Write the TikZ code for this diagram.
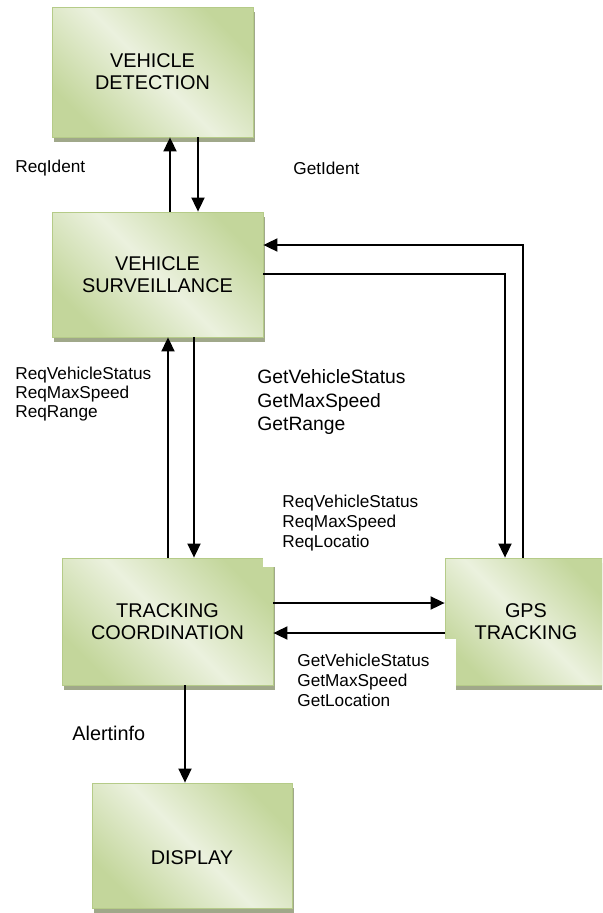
\documentclass[tikz,border=0pt]{standalone}
\usepackage{fontspec}
\setmainfont{Liberation Sans}
\usetikzlibrary{arrows.meta,shadows}
\definecolor{boxdark}{HTML}{C3D69B}
\definecolor{boxlight}{HTML}{EBF1DE}
\definecolor{boxedge}{HTML}{B5CB88}
\definecolor{boxshade}{HTML}{A0A88A}

\begin{document}
\begin{tikzpicture}[
  x=0.02cm, y=-0.02cm,
  blk/.style={draw=boxedge, line width=0.5pt, top color=boxdark, bottom color=boxdark, middle color=boxlight, shading angle=-45, font=\fontsize{11.3}{12.6}\selectfont, align=center, inner sep=0pt, drop shadow={shadow xshift=1.4pt, shadow yshift=-2.6pt, fill=boxshade, opacity=1}},
  msg/.style={font=\fontsize{9.8}{10.8}\selectfont, align=left, anchor=west, inner sep=0pt},
  flow/.style={->, line width=0.8pt},
  >={Triangle[length=8pt,width=7.5pt]}]
\path[use as bounding box] (0,0) rectangle (602,913);
\clip (0,0) rectangle (602,913);
% modules
\node[blk, minimum width=4.02cm, minimum height=2.6cm]  (det)   at (152.5,72)    {VEHICLE\\DETECTION};
\node[blk, minimum width=4.22cm, minimum height=2.5cm]  (surv)  at (157.5,274.5) {VEHICLE\\SURVEILLANCE};
\node[blk, minimum width=4.22cm, minimum height=2.54cm] (track) at (167.5,621.5) {TRACKING\\COORDINATION};
\node[blk, minimum width=3.24cm, minimum height=2.54cm] (gps)   at (526,621.5)   {GPS\\TRACKING};
\node[blk, minimum width=4cm, minimum height=2.5cm, label={[font=\fontsize{11.3}{12.6}\selectfont, yshift=-7pt]center:DISPLAY}] (disp) at (192,845.5) {};
% label backgrounds
\fill[white] (263,490) rectangle (441,567);
\fill[white] (278,639) rectangle (456,712);
% edges
\draw[flow] (surv.north -| 170,0) -- (det.south -| 170,0);
\draw[flow] (det.south -| 198,0) -- (surv.north -| 198,0);
\draw[flow] (gps.north -| 523,0) |- (surv.east |- 0,245);
\draw[flow] (surv.east |- 0,274) -| (gps.north -| 505,0);
\draw[flow] (track.north -| 168,0) -- (surv.south -| 168,0);
\draw[flow] (surv.south -| 194,0) -- (track.north -| 194,0);
\draw[flow] (track.east |- 0,603) -- (gps.west |- 0,603);
\draw[flow] (gps.west |- 0,633) -- (track.east |- 0,633);
\draw[flow] (track.south -| 185,0) -- (disp.north -| 185,0);
% messages
\node[msg] (reqid) at (15,168) {ReqIdent};
\node[msg] (getid) at (293,168) {GetIdent};
\node[msg] (reqsv) at (15,394) {ReqVehicleStatus\\ReqMaxSpeed\\ReqRange};
\node[msg, font=\fontsize{11}{13.3}\selectfont] (getsv) at (257,402) {GetVehicleStatus\\GetMaxSpeed\\GetRange};
\node[msg, font=\fontsize{9.8}{11.6}\selectfont] (reqgps) at (282,523) {ReqVehicleStatus\\ReqMaxSpeed\\ReqLocatio};
\node[msg, font=\fontsize{9.8}{11.3}\selectfont] (getgps) at (297,680) {GetVehicleStatus\\GetMaxSpeed\\GetLocation};
\node[msg, font=\fontsize{11.3}{13}\selectfont] (alert) at (72,733) {Alertinfo};
\end{tikzpicture}
\end{document}
